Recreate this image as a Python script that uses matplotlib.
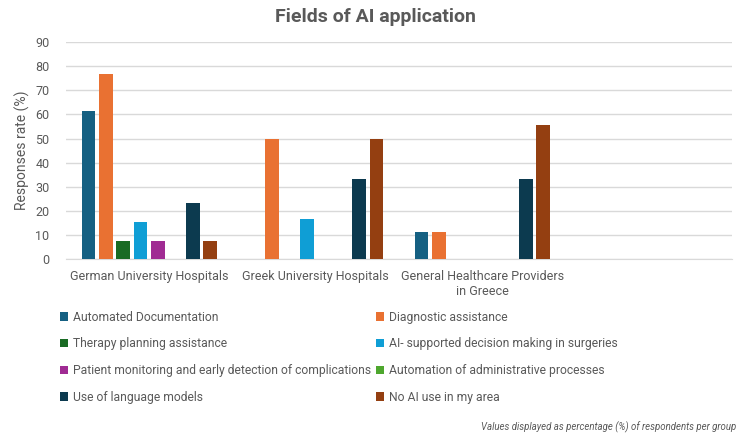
import matplotlib.pyplot as plt
import numpy as np

plt.rcParams['font.family'] = ['Roboto', 'DejaVu Sans']

# grupos (el cuarto hueco esta vacio en el original)
groups = ["German University Hospitals", "Greek University Hospitals",
          "General Healthcare Providers\nin Greece", ""]

series = ["Automated Documentation", "Diagnostic assistance",
          "Therapy planning assistance", "AI- supported decision making in surgeries",
          "Patient monitoring and early detection of complications",
          "Automation of administrative processes",
          "Use of language models", "No AI use in my area"]

automated = [61.5, 0, 11.1, 0]
diagnostic = [76.9, 50.0, 11.1, 0]
therapy = [7.7, 0, 0, 0]
surgeries = [15.4, 16.7, 0, 0]
monitoring = [7.7, 0, 0, 0]
administrative = [0, 0, 0, 0]
language = [23.1, 33.3, 33.3, 0]
no_ai = [7.7, 50.0, 55.6, 0]

values = [automated, diagnostic, therapy, surgeries, monitoring,
          administrative, language, no_ai]
colors = ["#156082", "#E97132", "#196B24", "#0F9ED5", "#A02B93",
          "#4EA72E", "#0C3A4F", "#943F11"]

gray = "#595959"

fig = plt.figure(figsize=(7.5, 4.43), dpi=100)
ax = fig.add_axes([0.088, 0.415, 0.888, 0.49])

x = np.arange(len(groups))
slot = 0.835 / len(series)
handles = []
for i, (vals, c) in enumerate(zip(values, colors)):
    b = ax.bar(x + (i - 3.5) * slot, vals, width=slot * 0.79, color=c,
               linewidth=0, label=series[i], zorder=3)
    handles.append(b)

ax.set_xlim(-0.5, 3.5)
ax.set_ylim(0, 90)
ax.set_yticks(range(0, 91, 10))
ax.set_xticks(x)
ax.set_xticklabels(groups, fontsize=9, color=gray)
ax.tick_params(axis='both', length=0, labelsize=9, labelcolor=gray)
ax.tick_params(axis='y', pad=12)
ax.tick_params(axis='x', pad=8)
ax.grid(axis='y', color="#D9D9D9", linewidth=1, zorder=0)
for s in ['top', 'right', 'left']:
    ax.spines[s].set_visible(False)
ax.spines['bottom'].set_color("#D9D9D9")
ax.set_ylabel("Responses rate (%)", fontsize=10, color=gray, labelpad=4)

fig.text(0.5, 0.962, "Fields of AI application", ha='center', va='center',
         fontsize=14, fontweight='bold', color=gray)

# orden por filas como en Excel
order = [0, 2, 4, 6, 1, 3, 5, 7]
leg = fig.legend([handles[k] for k in order], [series[k] for k in order],
                 loc='upper left', bbox_to_anchor=(0.073, 0.309), ncol=2,
                 frameon=False, fontsize=8.7, handlelength=0.7, handleheight=0.7,
                 handletextpad=0.4, columnspacing=0.4, labelspacing=1.12,
                 borderaxespad=0)
for t in leg.get_texts():
    t.set_color(gray)

fig.text(0.982, 0.035, "Values displayed as percentage (%) of respondents per group",
         ha='right', va='center', fontsize=6.9, style='italic', color=gray)

fig.savefig("out.png", dpi=100)
